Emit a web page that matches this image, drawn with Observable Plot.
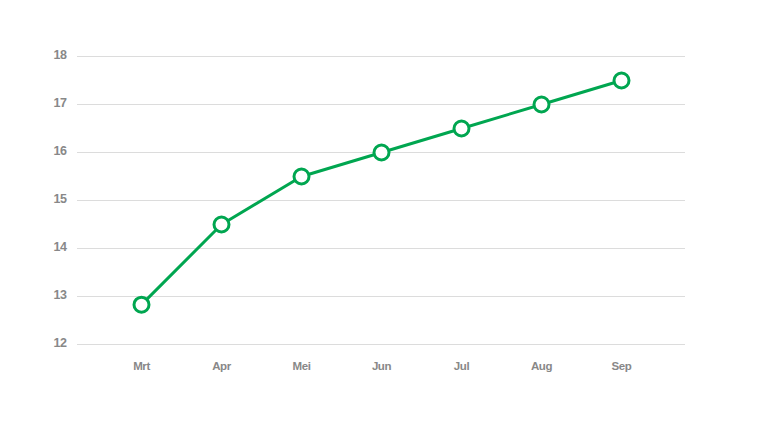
<!DOCTYPE html>
<html>
<head>
<meta charset="utf-8">
<script src="https://cdn.jsdelivr.net/npm/d3@7"></script>
<script src="https://cdn.jsdelivr.net/npm/@observablehq/plot@0.6"></script>
<style>
  html, body { margin: 0; padding: 0; background: #fff; }
  #chart svg { display: block; }
  #chart svg text { letter-spacing: -0.4px; }
</style>
</head>
<body>
<div id="chart"></div>
<script>
const months = ["Mrt", "Apr", "Mei", "Jun", "Jul", "Aug", "Sep"];
const values = [12.83, 14.5, 15.5, 16, 16.5, 17, 17.5];
const yTicks = [12, 13, 14, 15, 16, 17, 18];

const data = months.map((m, i) => ({month: m, value: values[i]}));
const green = "#00a650";
const font = "'Liberation Sans Narrow', 'Arial Narrow', 'Liberation Sans', Arial, sans-serif";

const chart = Plot.plot({
  width: 760,
  height: 422,
  marginTop: 56,
  marginBottom: 78,
  marginLeft: 77,
  marginRight: 75,
  style: {fontFamily: font, fontSize: "11.5px", fontWeight: "bold", color: "#888", background: "#fff"},
  x: {type: "point", domain: months, padding: 0.8, label: null},
  y: {domain: [12, 18], ticks: yTicks, label: null},
  marks: [
    Plot.ruleY(yTicks, {stroke: "#dcdcdc", strokeWidth: 1}),
    Plot.axisY({ticks: yTicks, tickFormat: "d", tickSize: 0, tickPadding: 11, dy: -2, fontSize: 12.5, fill: "#888", label: null, fontWeight: "bold"}),
    Plot.axisX({tickSize: 0, tickPadding: 17, fill: "#888", label: null, fontWeight: "bold"}),
    Plot.line(data, {x: "month", y: "value", stroke: green, strokeWidth: 3}),
    Plot.dot(data, {x: "month", y: "value", r: 7.5, fill: "#fff", stroke: green, strokeWidth: 3})
  ]
});
document.getElementById("chart").append(chart);
</script>
</body>
</html>
